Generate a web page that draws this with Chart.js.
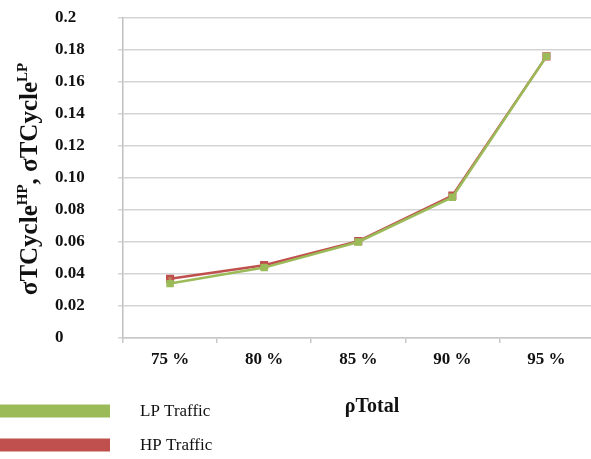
<!DOCTYPE html>
<html>
<head>
<meta charset="utf-8">
<script src="https://cdn.jsdelivr.net/npm/chart.js@4"></script>
<style>
  html, body { margin: 0; padding: 0; background: #ffffff; overflow: hidden; }
  #wrap { width: 591px; height: 459px; overflow: hidden; }
</style>
</head>
<body>
<div id="wrap"><canvas id="c" width="600" height="459"></canvas></div>
<script>
// Total load levels on the x axis
const categories = ['75 %', '80 %', '85 %', '90 %', '95 %'];
// Standard deviation of cycle time per traffic class
const lpTraffic = [0.034, 0.044, 0.060, 0.088, 0.176];
const hpTraffic = [0.037, 0.0455, 0.0605, 0.089, 0.176];
// Y tick labels, bottom to top
const yTickLabels = ['0', '0.02', '0.04', '0.06', '0.08', '0.10', '0.12', '0.14', '0.16', '0.18', '0.2'];

const LP_COLOR = '#9bbb59';
const HP_COLOR = '#c0504d';
const SERIF = '"Liberation Serif", "Times New Roman", serif';

// Legend, axis titles with superscripts
const annotations = {
  id: 'annotations',
  afterDraw(chart) {
    const ctx = chart.ctx;
    ctx.save();
    // legend
    const items = [
      { label: 'LP Traffic', color: LP_COLOR, y: 411 },
      { label: 'HP Traffic', color: HP_COLOR, y: 445 }
    ];
    ctx.font = '17px ' + SERIF;
    ctx.textBaseline = 'middle';
    ctx.textAlign = 'left';
    items.forEach(it => {
      ctx.fillStyle = it.color;
      ctx.fillRect(0, it.y - 6.5, 110, 13);
      ctx.fillStyle = '#111';
      ctx.fillText(it.label, 140, it.y + 1);
    });
    // x title
    ctx.font = 'bold 20px ' + SERIF;
    ctx.textAlign = 'center';
    ctx.fillText('\u03c1Total', 372, 407);
    // y title, rotated, with superscripts
    ctx.translate(37, 179);
    ctx.rotate(-Math.PI / 2);
    const parts = [
      ['\u03c3TCycle', false], ['HP', true], [', \u03c3TCycle', false], ['LP', true]
    ];
    const mainFont = 'bold 25px ' + SERIF;
    const supFont = 'bold 15px ' + SERIF;
    let total = 0;
    parts.forEach(p => { ctx.font = p[1] ? supFont : mainFont; total += ctx.measureText(p[0]).width; });
    let x = -total / 2;
    ctx.textAlign = 'left';
    ctx.textBaseline = 'alphabetic';
    parts.forEach(p => {
      ctx.font = p[1] ? supFont : mainFont;
      ctx.fillText(p[0], x, p[1] ? -10 : 0);
      x += ctx.measureText(p[0]).width;
    });
    ctx.restore();
  }
};

new Chart(document.getElementById('c'), {
  type: 'line',
  data: {
    labels: categories,
    datasets: [
      {
        label: 'LP Traffic',
        data: lpTraffic,
        borderColor: LP_COLOR,
        backgroundColor: LP_COLOR,
        borderWidth: 2.5,
        pointStyle: 'rect',
        pointRadius: 3.5,
        pointBorderColor: LP_COLOR,
        pointBackgroundColor: LP_COLOR,
        tension: 0
      },
      {
        label: 'HP Traffic',
        data: hpTraffic,
        borderColor: HP_COLOR,
        backgroundColor: HP_COLOR,
        borderWidth: 2.5,
        pointStyle: 'rect',
        pointRadius: 4,
        pointBorderColor: HP_COLOR,
        pointBackgroundColor: '#b9845a',
        tension: 0
      }
    ]
  },
  options: {
    responsive: false,
    animation: false,
    layout: { padding: { left: 55, top: 18, right: 0, bottom: 0 } },
    plugins: { legend: { display: false }, tooltip: { enabled: false } },
    scales: {
      x: {
        offset: true,
        grid: {
          offset: true,
          drawOnChartArea: false,
          tickLength: 5,
          color: '#c8c8c8',
          lineWidth: 1.5
        },
        border: { color: '#c8c8c8', width: 1.5 },
        ticks: {
          color: '#111',
          font: { family: SERIF, size: 17, weight: 'bold' },
          padding: 6
        },
        afterFit(scale) { scale.height = 121; }
      },
      y: {
        min: 0,
        max: 0.2,
        ticks: {
          stepSize: 0.02,
          color: '#111',
          crossAlign: 'far',
          font: { family: SERIF, size: 17, weight: 'bold' },
          callback: (v, i) => yTickLabels[i]
        },
        grid: { color: '#d4d4d4', lineWidth: 1.5, tickLength: 5 },
        border: { color: '#c0c0c0', width: 1.5 },
        afterFit(scale) { scale.width = 68; }
      }
    }
  },
  plugins: [annotations]
});
</script>
</body>
</html>
